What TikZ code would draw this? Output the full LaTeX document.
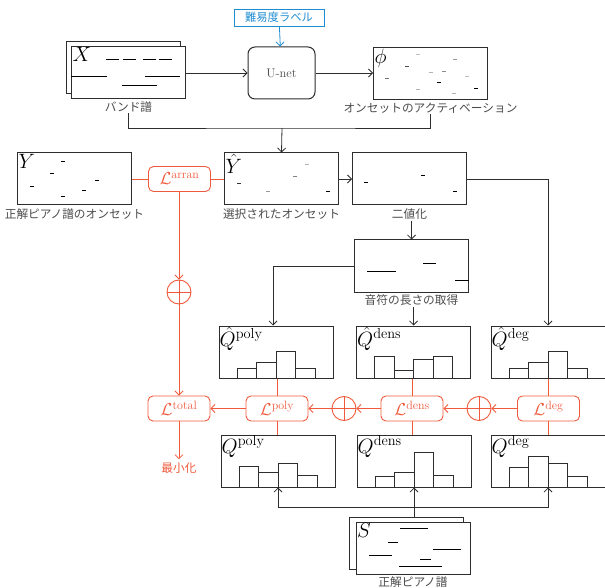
\documentclass[tikz,border=0pt]{standalone}
\usepackage{fontspec}
\newfontfamily\jpfont{Noto Sans CJK JP}
\usepackage{tikz}
\usetikzlibrary{arrows.meta, positioning, calc}
\definecolor{lossred}{RGB}{240,90,60}
\definecolor{tagblue}{RGB}{30,140,210}
\definecolor{boxgray}{RGB}{45,45,45}
\definecolor{txtgray}{RGB}{75,75,75}
\tikzset{
  %% piano-roll / histogram panel
  panel/.style={
    rectangle, draw=boxgray, fill=white, line width=1pt,
    minimum width=114pt, minimum height=52pt, inner sep=0pt
  },
  %% caption under a panel
  capt/.style={font=\jpfont\fontsize{11.7}{13}\selectfont, text=txtgray, inner sep=1pt},
  %% symbol in panel corner
  sym/.style={anchor=north west, inner sep=1.5pt, font=\huge},
  qsym/.style={anchor=north west, inner sep=1pt, font=\huge},
  %% loss box
  loss/.style={
    rectangle, rounded corners=5pt, draw=lossred, line width=0.9pt,
    text=lossred, minimum width=62pt, minimum height=25pt,
    inner sep=0pt, font=\LARGE
  },
  %% sum
  oplus/.style={
    circle, draw=lossred, line width=0.9pt, minimum size=24pt, inner sep=0pt,
    path picture={\draw[lossred, line width=0.9pt]
      (path picture bounding box.north) -- (path picture bounding box.south)
      (path picture bounding box.west) -- (path picture bounding box.east);}
  },
  %% arrows
  arr/.style={-{Straight Barb[length=4pt,width=8pt]}, draw=boxgray, line width=0.8pt},
  larr/.style={-{Straight Barb[length=4pt,width=8pt]}, draw=lossred, line width=0.8pt},
  lline/.style={draw=lossred, line width=0.8pt},
  note/.style={line width=1pt},
  bar/.style={draw=boxgray, line width=1pt, fill=white},
}
\newcommand{\drawhist}[2]{%
  \foreach \h [count=\i from 0] in {#2}
    \draw[bar] ($(#1.south)+(19.5*\i-39,0)$) rectangle ++(19.5,-\h);}

\begin{document}
\begin{tikzpicture}[x=1pt,y=-1pt]
  \useasboundingbox (0,0) rectangle (605,588);

  %% Top row
  \node[draw=tagblue, line width=0.9pt, text=tagblue, minimum width=90pt,
        minimum height=17pt, inner sep=0pt,
        font=\jpfont\fontsize{11.3}{13}\selectfont] (tag) at (279,17.5) {難易度ラベル};
  \node[panel, rounded corners=7pt, minimum width=67pt,
        font=\fontsize{12.5}{14}\selectfont, text=txtgray] (unet) at (281.5,73) {U-net};

  \node[panel] (xback) at (123,68) {};
  \node[panel] (xfront) at (128.5,72.5) {};
  \node[sym] (xsym) at (xfront.north west) {$X$};
  \foreach \a/\b/\y in {106/119/60, 123/136/60, 143/156/60, 159/172/60,
                        71/107/77, 145/180/77, 122/157/86}
    \draw[note] (\a,\y) -- (\b,\y);
  \node[capt, below=1pt of xfront] (xcap) {バンド譜};

  \node[panel] (phi) at (430.5,74) {};
  \node[sym] (phisym) at (phi.north west) {$\phi$};
  \foreach \x/\y/\c in {418/55/25, 455/60/40, 407/67/70, 387/79/55, 431/73/30,
                        444/72/45, 439/83/100, 467/77/25, 418/90/30, 454/94/30, 476/89/100}
    \draw[note, draw=black!\c] (\x-2,\y) -- ++(4,0);
  \node[capt, below=1pt of phi] (phicap) {オンセットのアクティベーション};

  \draw[arr, draw=tagblue] (tag) -- (unet);
  \draw[arr] (xfront.east |- unet.west) -- (unet.west);
  \draw[arr] (unet.east) -- (unet.east -| phi.west);

  %% Onset row
  \node[panel] (y) at (74.5,179) {};
  \node[sym] (ysym) at (y.north west) {$Y$};
  \foreach \x/\y in {63/162, 52/174, 32/187, 97/181, 84/191, 63/197}
    \draw[note] (\x-2,\y) -- ++(4,0);
  \node[capt, below=2pt of y] (ycap) {正解ピアノ譜のオンセット};

  \node[panel] (yhat) at (281.5,179) {};
  \node[sym] (yhatsym) at (yhat.north west) {$\hat{Y}$};
  \foreach \x/\y/\c in {307/165/30, 295/177/50, 239/184/80, 268/192/40, 328/192/100}
    \draw[note, draw=black!\c] (\x-2,\y) -- ++(4,0);
  \node[capt, below=2pt of yhat] (yhatcap) {選択されたオンセット};

  \node[panel] (binar) at (409.5,179) {};
  \foreach \x/\y in {366/183, 423/176, 455/192}
    \draw[note] (\x-2,\y) -- ++(4,0);
  \node[capt, below=2pt of binar] (binarcap) {二値化};

  \node[loss] (larran) at (179.5,179) {$\mathcal{L}^{\mathrm{arran}}$};

  \coordinate (merge) at (282,128);
  \draw[draw=boxgray, line width=0.8pt] (xcap.south) |- (merge) -| (phicap.south);
  \draw[arr] (merge) -- (yhat.north);
  \draw[lline] (y.east) -- (larran.west);
  \draw[lline] (larran.east) -- (yhat.west);
  \draw[arr] (yhat.east) -- (binar.west);

  %% Note length
  \node[panel] (notelen) at (411.5,266) {};
  \foreach \a/\b/\y in {367/396/271, 423/436/263, 455/469/280}
    \draw[note] (\a,\y) -- (\b,\y);
  \node[capt, below=1pt of notelen] (notecap) {音符の長さの取得};
  \draw[arr] (binarcap.south -| notelen.north) -- (notelen.north);

  %% Predicted histograms
  \node[panel] (qhpoly) at (276,352) {};
  \drawhist{qhpoly}{10,16,27,10}
  \node[qsym] (qhpolysym) at (qhpoly.north west) {$\hat{Q}^{\mathrm{poly}}$};
  \node[panel] (qhdens) at (413.5,352) {};
  \drawhist{qhdens}{22,8,19,22}
  \node[qsym] (qhdenssym) at (qhdens.north west) {$\hat{Q}^{\mathrm{dens}}$};
  \node[panel] (qhdeg) at (548,352) {};
  \drawhist{qhdeg}{10,16,27,10}
  \node[qsym] (qhdegsym) at (qhdeg.north west) {$\hat{Q}^{\mathrm{deg}}$};

  \draw[arr] (notelen.west) -| ([xshift=-3pt]qhpoly.north);
  \draw[arr] (notecap.south -| qhdens.north) -- (qhdens.north);
  \draw[arr] (binar.east) -| (qhdeg.north);

  %% Losses
  \node[loss] (ltotal) at (179,408.5) {$\mathcal{L}^{\mathrm{total}}$};
  \node[loss] (lpoly) at (277,408.5) {$\mathcal{L}^{\mathrm{poly}}$};
  \node[oplus] (sumA) at (344,408.5) {};
  \node[loss] (ldens) at (412,408.5) {$\mathcal{L}^{\mathrm{dens}}$};
  \node[oplus] (sumB) at (479,408.5) {};
  \node[loss] (ldeg) at (548.5,408.5) {$\mathcal{L}^{\mathrm{deg}}$};
  \node[oplus] (sumC) at (179,292) {};
  \node[font=\jpfont\fontsize{11.7}{13}\selectfont, text=lossred] (minim) at (179,468) {最小化};

  \draw[larr] (ldeg) -- (sumB);
  \draw[larr] (sumB) -- (ldens);
  \draw[larr] (ldens) -- (sumA);
  \draw[larr] (sumA) -- (lpoly);
  \draw[larr] (lpoly) -- (ltotal);
  \draw[larr] (larran.south -| sumC.north) -- (sumC.north);
  \draw[larr] (sumC) -- (ltotal);
  \draw[larr] (ltotal) -- (minim);

  %% Target histograms
  \node[panel] (qpoly) at (278,461) {};
  \drawhist{qpoly}{21,15,24,12}
  \node[qsym] (qpolysym) at (qpoly.north west) {$Q^{\mathrm{poly}}$};
  \node[panel] (qdens) at (414,461) {};
  \drawhist{qdens}{11,15,35,12}
  \node[qsym] (qdenssym) at (qdens.north west) {$Q^{\mathrm{dens}}$};
  \node[panel] (qdeg) at (548,461) {};
  \drawhist{qdeg}{20,31,24,11}
  \node[qsym] (qdegsym) at (qdeg.north west) {$Q^{\mathrm{deg}}$};

  \draw[lline] (qhpoly.south -| lpoly.north) -- (lpoly.north);
  \draw[lline] (lpoly.south) -- (lpoly.south |- qpoly.north);
  \draw[lline] (qhdens.south -| ldens.north) -- (ldens.north);
  \draw[lline] (ldens.south) -- (ldens.south |- qdens.north);
  \draw[lline] (qhdeg.south -| ldeg.north) -- (ldeg.north);
  \draw[lline] (ldeg.south) -- (ldeg.south |- qdeg.north);

  %% Target score
  \node[panel] (sback) at (406.5,543) {};
  \node[panel] (sfront) at (413,548) {};
  \node[sym] (ssym) at (sfront.north west) {$S$};
  \foreach \a/\b/\y in {400/428/528, 388/398/542, 433/461/549,
                        369/392/555, 420/431/559, 399/442/566}
    \draw[note] (\a,\y) -- (\b,\y);
  \node[capt, below=1pt of sfront] (scap) {正解ピアノ譜};

  \coordinate (bus) at (414,507);
  \draw[arr] (qdens.south |- sback.north) -- (qdens.south);
  \draw[arr] (bus) -| (qpoly.south);
  \draw[arr] (bus) -| (qdeg.south);
\end{tikzpicture}
\end{document}
